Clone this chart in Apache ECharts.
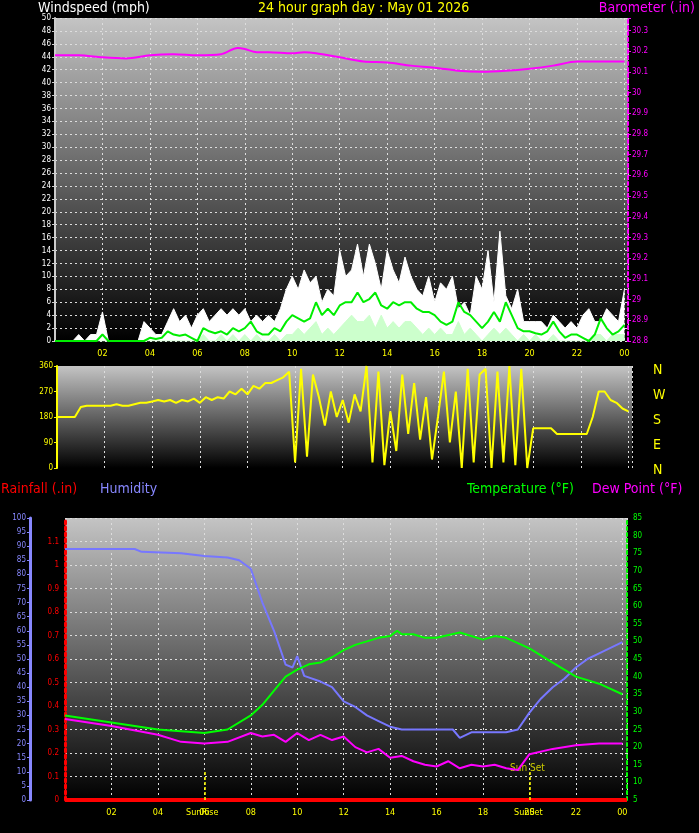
<!DOCTYPE html>
<html style="height: 100%">
<head>
    <meta charset="utf-8">
    <title>24 hour graph</title>
    <script src="https://cdn.jsdelivr.net/npm/echarts@6/dist/echarts.min.js"></script>
</head>
<body style="height: 100%; margin: 0; background: #000">
    <div id="main" style="width: 699px; height: 833px"></div>
    <script type="text/javascript">
        // wind samples every 15 minutes, 00:00 .. 24:00
        var windGust = [0,0,0,0, 1,0,1,1, 4.5,0,0,0, 0,0,0,3, 2,1,1,3, 5,3,4,2, 4,5,3,4, 5,4,5,4,
            5,3,4,3, 4,3,5,8, 10,8,11,9, 10,6,8,7, 14,10,11,15, 10,15,12,8, 14,11,9,13, 10,8,7,10,
            6,9,8,10, 5,6,4,10, 8,14,6,17, 7,5,8,3, 3,3,3,2, 4,3,2,3, 2,4,5,3, 3,5,4,3, 8];
        var windAvg = [0,0,0,0, 0,0,0,0, 1,0,0,0, 0,0,0,0, 0.5,0.3,0.5,1.5, 1,0.8,1,0.5, 0,2,1.5,1.2, 1.5,1,2,1.5,
            2,3,1.5,1, 1,2,1.5,3, 4,3.5,3,3.5, 6,4,5,4, 5.5,6,6,7.5, 6,6.5,7.5,5.5, 5,6,5.5,6, 6,5,4.5,4.5,
            4,3,2.5,3, 6,4.5,4,3, 2,3,4.5,3, 6,4,2,1.5, 1.5,1.2,1,1.5, 3,1.5,0.5,1, 1,0.5,0,1, 3.5,2,1,1.5, 2.5];
        var windLow = [0,0,0,0, 0,0,0,0, 0,0,0,0, 0,0,0,0, 0,0,0,0, 0,0,0,0, 0,1,0,0, 1,0,1,0,
            1,0,1,0, 0,1,0,1, 1,2,1,2, 3,1,2,1, 2,3,4,3, 3,4,2,4, 2,3,2,3, 3,2,1,2,
            1,2,1,1, 3,1,2,1, 0,1,2,1, 2,1,0,1, 0,1,0,0, 1,0,0,0, 0,0,0,1, 1,0,1,1, 1];
        var windDir = [180,180,180,180, 215,220,220,220, 220,220,225,220, 220,225,230,230, 235,240,235,240,
            230,240,235,245, 230,250,240,250, 245,270,260,280, 260,290,280,300, 300,310,320,340,
            20,350,40,330, 250,150,270,180, 240,160,260,200, 360,20,340,10, 200,60,330,120,
            300,100,250,30, 180,340,90,270, 0,350,20,330, 350,0,340,20, 360,10,350,0,
            140,140,140,140, 120,120,120,120, 120,120,180,270, 270,240,230,210, 200];

        var baroHours = [0,1,2,3,4,5,6,7,7.7,8,8.5,9,10,10.5,11,12,13,14,15,16,17,18,19,20,21,22,23,24];
        var baro = [30.18,30.18,30.17,30.165,30.18,30.185,30.18,30.185,30.215,30.21,30.195,30.195,30.19,30.195,30.19,
            30.17,30.15,30.145,30.13,30.12,30.105,30.10,30.105,30.115,30.13,30.15,30.15,30.15];

        var humHours = [0,3,3.3,5,6,7,7.5,8,8.5,9,9.5,9.8,10,10.3,11,11.5,12,12.5,13,13.5,14,14.5,15,16,16.7,17,17.5,18,18.5,19,19.5,20,20.5,21,21.5,22,22.5,23,24];
        var humidity = [89,89,88,87.5,86.5,86,85,82,70,60,48,47,51,44,42,40,35,33,30,28,26,25,25,25,25,22,24,24,24,24,25,31,36,40,43,47,50,52,56];

        var tempHours = [0,2,4,6,7,8,8.5,9,9.5,10,10.5,11,11.5,12,12.5,13,13.5,14,14.3,14.5,15,15.5,16,17,18,18.5,19,20,21,22,23,24];
        var temperature = [29,27,25,24,25,29,32,36,40,42,43.5,44,45.5,47.5,49,50,51,51.5,53,52,52,51,51,52.5,50.5,51.5,51,48,44,40,38,35];

        var dewHours = [0,2,4,5,6,7,8,8.5,9,9.5,10,10.5,11,11.5,12,12.5,13,13.5,14,14.5,15,15.5,16,16.5,17,17.5,18,18.5,19,19.5,20,21,22,23,24];
        var dewPoint = [28,26,23.5,21.5,21,21.5,24,23,23.5,21.5,24,22,23.5,22,23,20,18.5,19.5,17,17.5,16,15,14.5,16,14,15,14.5,15,14,13.5,18,19.5,20.5,21,21];

        var sunRise = 6.0, sunSet = 20.0;

        function quarters(arr) { return arr.map(function (v, i) { return [i * 0.25, v]; }); }
        function pairs(h, v) { return h.map(function (x, i) { return [x, v[i]]; }); }

        var font = "'Liberation Sans Narrow', 'DejaVu Sans Condensed', sans-serif";
        var bg = { type: 'linear', x: 0, y: 0, x2: 0, y2: 1,
            colorStops: [{ offset: 0, color: '#c4c4c4' }, { offset: 1, color: '#000' }] };
        var dotted = { show: true, lineStyle: { color: '#ddd', type: [2, 3], width: 1 } };

        function xAxis(idx, showLabels, min, max) {
            return {
                type: 'value', gridIndex: idx, min: min, max: max, interval: 2,
                axisLine: { show: false }, axisTick: { show: false },
                axisLabel: { show: showLabels, color: '#ff0', fontSize: 9, fontFamily: font,
                    formatter: function (v) { if (v === 0) return ''; var h = v % 24; return (h < 10 ? '0' : '') + h; } },
                splitLine: dotted
            };
        }

        var myChart = echarts.init(document.getElementById('main'));
        var option = {
            backgroundColor: '#000',
            animation: false,
            textStyle: { fontFamily: font },
            grid: [
                { left: 55, right: 71, top: 18, height: 323, show: true, backgroundColor: bg, borderWidth: 0 },
                { left: 57, right: 67, top: 366, height: 102, show: true, backgroundColor: bg, borderWidth: 0 },
                { left: 65, right: 72, top: 518, height: 282, show: true, backgroundColor: bg, borderWidth: 0 }
            ],
            xAxis: [xAxis(0, true, 0, 24.15), xAxis(1, false, 0, 24.15), xAxis(2, true, 0, 24.2)],
            yAxis: [
                { type: 'value', gridIndex: 0, min: 0, max: 50, interval: 2,
                  axisLine: { show: true, lineStyle: { color: '#ccc', width: 2 } }, axisTick: { show: true, length: 3, lineStyle: { color: '#ccc' } },
                  axisLabel: { color: '#fff', fontSize: 8, margin: 4 }, splitLine: dotted },
                { type: 'value', gridIndex: 0, position: 'right', min: 28.8, max: 30.36, interval: 0.1,
                  axisLine: { show: true, lineStyle: { color: '#f0f', width: 2, type: [3, 3] } }, axisTick: { show: true, length: 3, lineStyle: { color: '#f0f' } },
                  axisLabel: { color: '#f0f', fontSize: 8, margin: 4, formatter: function (v) { return v > 30.33 ? '' : +v.toFixed(1); } },
                  splitLine: { show: false } },
                { type: 'value', gridIndex: 1, min: 0, max: 360, interval: 90,
                  axisLine: { show: true, lineStyle: { color: '#ff0', width: 2 } }, axisTick: { show: true, length: 3, lineStyle: { color: '#ff0' } },
                  axisLabel: { color: '#ff0', fontSize: 8, margin: 4 }, splitLine: { show: false } },
                { type: 'value', gridIndex: 2, min: 0, max: 1.2, interval: 0.1,
                  axisLine: { show: true, lineStyle: { color: '#f00', width: 3, type: [3, 3] } }, axisTick: { show: false },
                  axisLabel: { color: '#f00', fontSize: 8, margin: 6, formatter: function (v) { return v > 1.15 ? '' : +v.toFixed(1); } },
                  splitLine: dotted },
                { type: 'value', gridIndex: 2, position: 'left', min: 0, max: 100, interval: 5, offset: 35,
                  axisLine: { show: true, lineStyle: { color: '#88f', width: 3 } }, axisTick: { show: true, length: 3, lineStyle: { color: '#88f' } },
                  axisLabel: { color: '#88f', fontSize: 8, margin: 4 }, splitLine: { show: false } },
                { type: 'value', gridIndex: 2, position: 'right', min: 5, max: 85, interval: 5,
                  axisLine: { show: true, lineStyle: { color: '#0f0', width: 2, type: [3, 3] } }, axisTick: { show: false },
                  axisLabel: { color: '#0f0', fontSize: 8, margin: 6 }, splitLine: { show: false } }
            ],
            series: [
                { type: 'line', xAxisIndex: 0, yAxisIndex: 0, data: quarters(windGust), symbol: 'none',
                  lineStyle: { color: '#fff', width: 1 }, areaStyle: { color: '#fff', opacity: 1 } },
                { type: 'line', xAxisIndex: 0, yAxisIndex: 0, data: quarters(windLow), symbol: 'none',
                  lineStyle: { color: '#cfc', width: 1 }, areaStyle: { color: '#cfc', opacity: 1 } },
                { type: 'line', xAxisIndex: 0, yAxisIndex: 0, data: quarters(windAvg), symbol: 'none',
                  lineStyle: { color: '#0e0', width: 2 } },
                { type: 'line', xAxisIndex: 0, yAxisIndex: 1, data: pairs(baroHours, baro), symbol: 'none', smooth: 0.3,
                  lineStyle: { color: '#f0f', width: 2 } },
                { type: 'line', xAxisIndex: 1, yAxisIndex: 2, data: quarters(windDir), symbol: 'none',
                  lineStyle: { color: '#ff0', width: 2 } },
                { type: 'line', xAxisIndex: 2, yAxisIndex: 3, data: [[0, 0], [24.2, 0]], symbol: 'none',
                  lineStyle: { color: '#f00', width: 4 },
                  markLine: { symbol: 'none', silent: true, label: { show: false },
                      lineStyle: { color: '#ff0', type: [3, 2], width: 1.5 },
                      data: [[{ coord: [sunRise, 0] }, { coord: [sunRise, 0.12] }],
                             [{ coord: [sunSet, 0] }, { coord: [sunSet, 0.12] }]] } },
                { type: 'line', xAxisIndex: 2, yAxisIndex: 4, data: pairs(humHours, humidity), symbol: 'none',
                  lineStyle: { color: '#77f', width: 2 } },
                { type: 'line', xAxisIndex: 2, yAxisIndex: 5, data: pairs(tempHours, temperature), symbol: 'none',
                  lineStyle: { color: '#0f0', width: 2 } },
                { type: 'line', xAxisIndex: 2, yAxisIndex: 5, data: pairs(dewHours, dewPoint), symbol: 'none',
                  lineStyle: { color: '#f0f', width: 2 } }
            ],
            graphic: [
                { type: 'text', left: 38, top: 1, style: { text: 'Windspeed (mph)', fill: '#fff', font: '14px ' + font } },
                { type: 'text', left: 258, top: 1, style: { text: '24 hour graph day : May 01 2026', fill: '#ff0', font: '14px ' + font } },
                { type: 'text', right: 4, top: 1, style: { text: 'Barometer (.in)', fill: '#f0f', font: '14px ' + font } },
                { type: 'text', left: 653, top: 358, style: { text: 'N\nW\nS\nE\nN', fill: '#ff0', font: '14px ' + font, lineHeight: 25 } },
                { type: 'text', left: 1, top: 482, style: { text: 'Rainfall (.in)', fill: '#f00', font: '14px ' + font } },
                { type: 'text', left: 100, top: 482, style: { text: 'Humidity', fill: '#88f', font: '14px ' + font } },
                { type: 'text', left: 467, top: 482, style: { text: 'Temperature (°F)', fill: '#0f0', font: '14px ' + font } },
                { type: 'text', left: 592, top: 482, style: { text: 'Dew Point (°F)', fill: '#f0f', font: '14px ' + font } },
                { type: 'text', left: 186, top: 808, style: { text: 'SunRise', fill: '#ff0', font: '9px ' + font } },
                { type: 'text', left: 514, top: 808, style: { text: 'SunSet', fill: '#ff0', font: '9px ' + font } },
                { type: 'text', left: 510, top: 763, style: { text: 'Sun Set', fill: '#cc0', font: '10px ' + font } }
            ]
        };
        myChart.setOption(option);
    </script>
</body>
</html>
